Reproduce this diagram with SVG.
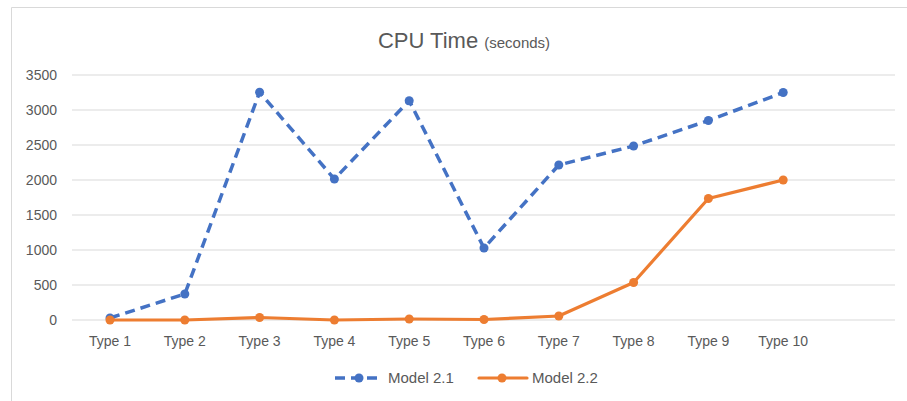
<svg xmlns="http://www.w3.org/2000/svg" width="907" height="401" viewBox="0 0 907 401">
<style>
.bg{fill:#fff}
.frame{fill:none;stroke:#D9D9D9;stroke-width:1}
.grid{stroke:#D9D9D9;stroke-width:1}
.t{font-family:"Liberation Sans",Arial,sans-serif;fill:#595959}
.ax{font-size:14px}
.yl{text-anchor:end}
.xl{text-anchor:middle}
.s1{fill:none;stroke:#4472C4;stroke-width:3.5;stroke-dasharray:10 6;stroke-linejoin:round}
.s2{fill:none;stroke:#ED7D31;stroke-width:3.2;stroke-linejoin:round;stroke-linecap:round}
.m1{fill:#4472C4}
.m2{fill:#ED7D31}
</style>
<rect class="bg" x="0" y="0" width="907" height="401"/>
<path class="frame" d="M907,7.5 H11.5 V401"/>
<g id="title">
<text class="t" x="464" y="48" text-anchor="middle"><tspan font-size="22">CPU Time </tspan><tspan font-size="15">(seconds)</tspan></text>
</g>
<g id="gridlines">
<line class="grid" x1="72" y1="75" x2="895" y2="75"/>
<line class="grid" x1="72" y1="110" x2="895" y2="110"/>
<line class="grid" x1="72" y1="145" x2="895" y2="145"/>
<line class="grid" x1="72" y1="180" x2="895" y2="180"/>
<line class="grid" x1="72" y1="215" x2="895" y2="215"/>
<line class="grid" x1="72" y1="250" x2="895" y2="250"/>
<line class="grid" x1="72" y1="285" x2="895" y2="285"/>
<line class="grid" x1="72" y1="320" x2="895" y2="320"/>
</g>
<g id="y-axis" class="t ax yl">
<text x="57" y="80">3500</text>
<text x="57" y="115">3000</text>
<text x="57" y="150">2500</text>
<text x="57" y="185">2000</text>
<text x="57" y="220">1500</text>
<text x="57" y="255">1000</text>
<text x="57" y="290">500</text>
<text x="57" y="325">0</text>
</g>
<g id="x-axis" class="t ax xl">
<text x="110" y="346">Type 1</text>
<text x="184.8" y="346">Type 2</text>
<text x="259.6" y="346">Type 3</text>
<text x="334.4" y="346">Type 4</text>
<text x="409.2" y="346">Type 5</text>
<text x="484" y="346">Type 6</text>
<text x="558.8" y="346">Type 7</text>
<text x="633.6" y="346">Type 8</text>
<text x="708.4" y="346">Type 9</text>
<text x="783.2" y="346">Type 10</text>
</g>
<g id="series-model-2-1">
<polyline class="s1" points="110,318 184.8,294 259.6,92.3 334.4,179 409.2,100.7 484,248 558.8,165 633.6,146 708.4,120.5 783.2,92.5"/>
<g class="m1">
<circle cx="110" cy="318" r="4.5"/>
<circle cx="184.8" cy="294" r="4.5"/>
<circle cx="259.6" cy="92.3" r="4.5"/>
<circle cx="334.4" cy="179" r="4.5"/>
<circle cx="409.2" cy="100.7" r="4.5"/>
<circle cx="484" cy="248" r="4.5"/>
<circle cx="558.8" cy="165" r="4.5"/>
<circle cx="633.6" cy="146" r="4.5"/>
<circle cx="708.4" cy="120.5" r="4.5"/>
<circle cx="783.2" cy="92.5" r="4.5"/>
</g>
</g>
<g id="series-model-2-2">
<polyline class="s2" points="110,320 184.8,320 259.6,317.5 334.4,320 409.2,319 484,319.5 558.8,316 633.6,282.5 708.4,198.5 783.2,180"/>
<g class="m2">
<circle cx="110" cy="320" r="4.5"/>
<circle cx="184.8" cy="320" r="4.5"/>
<circle cx="259.6" cy="317.5" r="4.5"/>
<circle cx="334.4" cy="320" r="4.5"/>
<circle cx="409.2" cy="319" r="4.5"/>
<circle cx="484" cy="319.5" r="4.5"/>
<circle cx="558.8" cy="316" r="4.5"/>
<circle cx="633.6" cy="282.5" r="4.5"/>
<circle cx="708.4" cy="198.5" r="4.5"/>
<circle cx="783.2" cy="180" r="4.5"/>
</g>
</g>
<g id="legend">
<line class="s1" x1="335" y1="378" x2="381" y2="378" stroke-dasharray="10 6"/>
<circle class="m1" cx="359" cy="378" r="4.5"/>
<text class="t" x="388" y="383" font-size="15">Model 2.1</text>
<line class="s2" x1="479" y1="378" x2="527" y2="378"/>
<circle class="m2" cx="502" cy="378" r="4.5"/>
<text class="t" x="532" y="383" font-size="15">Model 2.2</text>
</g>
</svg>
